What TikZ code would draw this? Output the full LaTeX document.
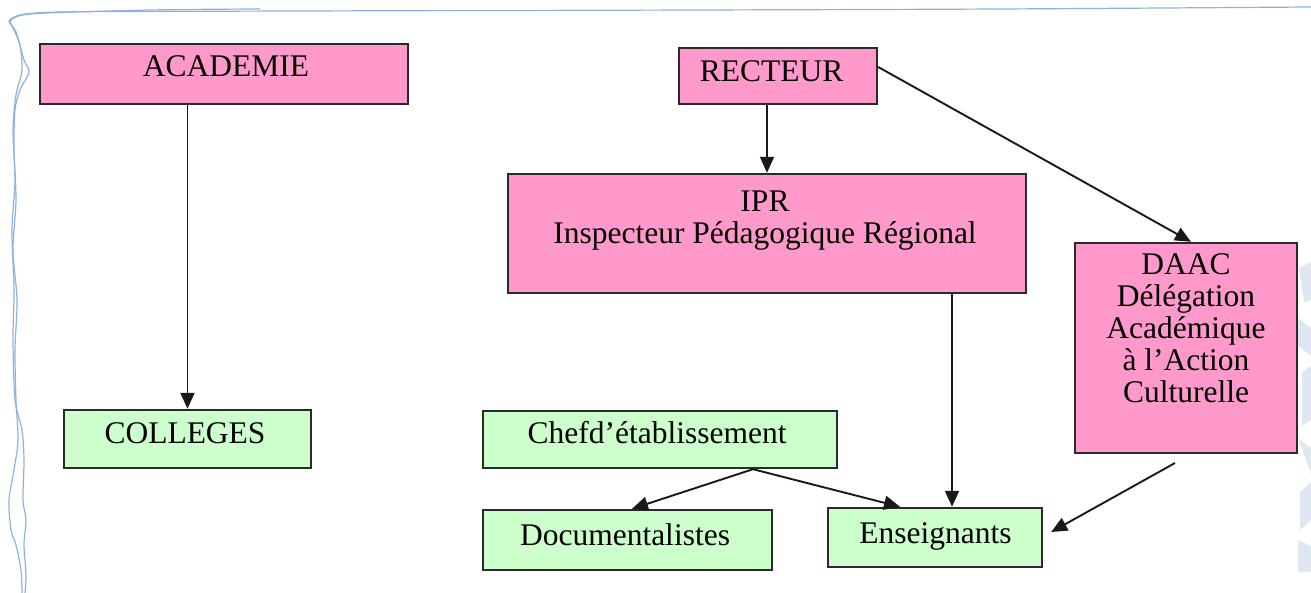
\documentclass[tikz,border=0pt]{standalone}
\usepackage{fontspec}
\setmainfont{Liberation Serif}
\usetikzlibrary{arrows.meta,calc}
\definecolor{pinkfill}{HTML}{FF99CC}
\definecolor{greenfill}{HTML}{CCFFCC}
\definecolor{edgegray}{HTML}{2A2A2A}
\definecolor{framblue}{HTML}{8DB3E2}
\definecolor{wmark}{HTML}{DFE8F2}
\tikzset{
  boxbase/.style={draw=edgegray, line width=2.4pt, inner sep=0pt},
  pinkbox/.style={boxbase, fill=pinkfill},
  greenbox/.style={boxbase, fill=greenfill},
  lbl/.style={inner sep=0pt, align=center, font=\fontsize{31.5}{32}\selectfont, text=black},
  arr/.style={draw=black!90, line width=1.9pt, -{Triangle[length=16pt,width=14pt]}},
  framestroke/.style={draw=framblue, line width=1.2pt, line cap=round, line join=round}
}
\begin{document}
\begin{tikzpicture}[x=1pt,y=-1pt]
\useasboundingbox (0,0) rectangle (1311,593);
\fill[white] (0,0) rectangle (1311,593);

% hand-drawn frame
\draw[framestroke] plot[smooth] coordinates {(17,16) (60,12) (300,11) (700,10) (1000,9) (1311,7)};
\draw[framestroke] plot[smooth] coordinates {(10,22) (30,14) (150,10) (260,9)};
\draw[framestroke] plot[smooth] coordinates {(17,16) (9,21) (16,32) (24,60) (29,72) (20,90) (15,110) (14,150) (16,200) (13,250) (17,300) (15,350) (16,400) (18,440) (14,470) (9,500) (11,530) (16,545) (21,570) (22,593)};
\draw[framestroke] plot[smooth] coordinates {(10,22) (14,30) (20,45) (22,70) (16,95) (13,130) (15,180) (12,230) (14,290) (13,340) (15,400) (22,430) (24,460) (23,500) (26,520) (24,545) (26,575) (25,593)};

% faint watermark on the right edge
\fill[wmark] (1299,268) -- (1311,262) -- (1311,300) -- (1304,302) -- cycle;
\fill[wmark] (1298,318) -- (1311,328) -- (1311,356) -- (1298,346) -- cycle;
\fill[wmark] (1302,372) -- (1311,366) -- (1311,420) -- (1302,426) -- cycle;
\fill[wmark] (1298,438) -- (1311,448) -- (1311,474) -- cycle;
\fill[wmark] (1300,492) -- (1311,482) -- (1311,520) -- (1300,530) -- cycle;
\fill[wmark] (1298,540) -- (1311,546) -- (1311,572) -- (1298,572) -- cycle;

% boxes
\node[pinkbox, minimum width=368, minimum height=60] (acad) at (224,74) {};
\node[pinkbox, minimum width=198, minimum height=56] (rect) at (778,76) {};
\node[pinkbox, minimum width=518, minimum height=119] (ipr) at (767,233.5) {};
\node[pinkbox, minimum width=222, minimum height=210] (daac) at (1186,348) {};
\node[greenbox, minimum width=247, minimum height=58] (coll) at (187.5,439) {};
\node[greenbox, minimum width=354, minimum height=57] (chef) at (660,439.5) {};
\node[greenbox, minimum width=289, minimum height=60] (doc) at (627.5,540) {};
\node[greenbox, minimum width=214, minimum height=59] (ens) at (935,537.5) {};

% texts (base anchor = baseline of the last line)
\node[lbl, anchor=base] (acad-t) at (226,77) {ACADEMIE};
\node[lbl, anchor=base] (rect-t) at (771.5,82) {RECTEUR};
\node[lbl, anchor=base] (ipr-t) at (765,244) {IPR\\Inspecteur Pédagogique Régional};
\node[lbl, anchor=base] (daac-t) at (1186,402) {DAAC\\Délégation\\Académique\\à l’Action\\Culturelle};
\node[lbl, anchor=base] (coll-t) at (185,443) {COLLEGES};
\node[lbl, anchor=base] (chef-t) at (657,443) {Chefd’établissement};
\node[lbl, anchor=base] (doc-t) at (625,545) {Documentalistes};
\node[lbl, anchor=base] (ens-t) at (935.5,543) {Enseignants};

% connectors
\draw[arr] (acad.south -| coll.north) -- (coll.north);
\draw[arr] (rect.south -| ipr.north) -- (ipr.north);
\draw[arr] ([yshift=9pt]rect.east) -- ([xshift=5pt]daac.north);
\draw[arr] ([xshift=17pt]ens.north |- ipr.south) -- ([xshift=17pt]ens.north);
\draw[arr] ([xshift=93pt]chef.south) -- ([xshift=4.5pt]doc.north);
\draw[arr] ([xshift=93pt]chef.south) -- ([xshift=-35pt]ens.north);
\coordinate (dstart) at (1175,463);
\draw[arr] (dstart) -- ([xshift=8pt,yshift=5.5pt]ens.east);
\end{tikzpicture}
\end{document}
